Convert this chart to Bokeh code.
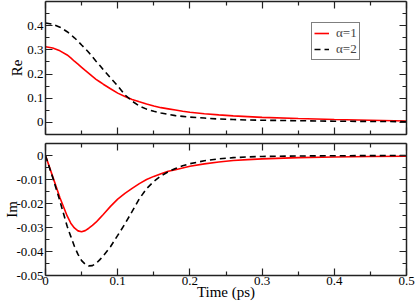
from bokeh.plotting import figure
from bokeh.models import FixedTicker, LinearAxis, CustomJSTickFormatter, Range1d, Legend, LegendItem
from bokeh.layouts import column
from bokeh.embed import file_html
from bokeh.resources import INLINE

# ---- data ----
t = [0.0, 0.01, 0.02, 0.03, 0.035, 0.04, 0.045, 0.05, 0.055, 0.06, 0.065, 0.07, 0.075, 0.08,
     0.09, 0.10, 0.11, 0.12, 0.13, 0.14, 0.15, 0.16, 0.17, 0.18, 0.19, 0.20, 0.22, 0.24,
     0.26, 0.28, 0.30, 0.35, 0.40, 0.45, 0.50]
re_a1 = [0.313, 0.308, 0.296, 0.279, 0.267, 0.253, 0.241, 0.228, 0.215, 0.203, 0.190, 0.178,
         0.168, 0.158, 0.139, 0.121, 0.107, 0.095, 0.085, 0.076, 0.068, 0.061, 0.056, 0.051,
         0.046, 0.042, 0.036, 0.031, 0.027, 0.024, 0.021, 0.016, 0.012, 0.009, 0.006]
re_a2 = [0.411, 0.406, 0.394, 0.375, 0.363, 0.350, 0.336, 0.320, 0.305, 0.289, 0.271, 0.253,
         0.236, 0.218, 0.184, 0.151, 0.114, 0.088, 0.068, 0.055, 0.046, 0.039, 0.033, 0.028,
         0.025, 0.022, 0.018, 0.014, 0.012, 0.010, 0.009, 0.007, 0.005, 0.004, 0.003]
im_a1 = [0.0, -0.0088, -0.0176, -0.0252, -0.0282, -0.0302, -0.0314, -0.0318, -0.0313, -0.0303,
         -0.0291, -0.0278, -0.0262, -0.0246, -0.0212, -0.0182, -0.0158, -0.0137, -0.0117,
         -0.0100, -0.0087, -0.0076, -0.0066, -0.0059, -0.0052, -0.0045, -0.0035, -0.0027,
         -0.0021, -0.0017, -0.0014, -0.0009, -0.0006, -0.0004, -0.0003]
im_a2 = [0.0, -0.0092, -0.0190, -0.0295, -0.0337, -0.0378, -0.0412, -0.0438, -0.0453, -0.0460,
         -0.0459, -0.0450, -0.0435, -0.0418, -0.0380, -0.0333, -0.0285, -0.0233, -0.0180,
         -0.0138, -0.0108, -0.0085, -0.0068, -0.0054, -0.0043, -0.0034, -0.0022, -0.0014,
         -0.0009, -0.0006, -0.0004, -0.0002, -0.0001, -0.00005, 0.0]

x_ticks = [0.0, 0.1, 0.2, 0.3, 0.4, 0.5]
x_minor = [0.05, 0.15, 0.25, 0.35, 0.45]
re_ticks = [0.0, 0.1, 0.2, 0.3, 0.4]
re_minor = [-0.05, 0.05, 0.15, 0.25, 0.35, 0.45]
im_ticks = [0.0, -0.01, -0.02, -0.03, -0.04, -0.05]
im_minor = [-0.005, -0.015, -0.025, -0.035, -0.045]
labels = ["\u03b1=1", "\u03b1=2"]

FONT = "'Liberation Serif'"


def fmt(digits):
    return CustomJSTickFormatter(code=f"return Math.abs(tick) < 1e-9 ? '0' : tick.toFixed({digits});")


def style_axis(ax, ticks, minor, digits=None):
    ax.ticker = FixedTicker(ticks=ticks, minor_ticks=minor)
    ax.major_tick_in = 7
    ax.major_tick_out = 0
    ax.minor_tick_in = 4
    ax.minor_tick_out = 0
    ax.axis_line_width = 1.5
    ax.axis_line_color = "#222222"
    ax.major_tick_line_color = "#222222"
    ax.minor_tick_line_color = "#222222"
    ax.major_tick_line_width = 1.2
    ax.minor_tick_line_width = 1.2
    if digits is None:
        ax.major_label_text_color = None
        ax.major_label_text_font_size = "1px"
        ax.major_label_standoff = 0
        ax.axis_label_standoff = 0
    else:
        ax.formatter = fmt(digits)
        ax.major_label_text_font = FONT
        ax.major_label_text_font_size = "13px"
        ax.major_label_text_color = "black"
        ax.major_label_standoff = 2
        ax.axis_label_standoff = -7
    ax.axis_label_text_font = FONT
    ax.axis_label_text_font_size = "15px"
    ax.axis_label_text_font_style = "normal"
    ax.axis_label_text_color = "black"


def make_fig(height, yr, mb_top, mb_bottom):
    p = figure(width=415, height=height, output_backend="svg", toolbar_location=None,
               x_range=Range1d(0, 0.5), y_range=Range1d(*yr),
               min_border_left=45, min_border_right=9,
               min_border_top=mb_top, min_border_bottom=mb_bottom)
    p.grid.visible = False
    p.outline_line_color = None
    p.background_fill_color = "white"
    p.border_fill_color = "white"
    return p


# ---- top panel (Re) ----
p1 = make_fig(138, (-0.05, 0.5), 1, 4)
r1 = p1.line(t, re_a1, line_color="#ff0000", line_width=1.6)
r2 = p1.line(t, re_a2, line_color="black", line_width=1.6, line_dash="6 4")
style_axis(p1.xaxis[0], x_ticks, x_minor)
style_axis(p1.yaxis[0], re_ticks, re_minor, 1)
p1.yaxis[0].axis_label = "Re"
p1.yaxis[0].axis_label_standoff = -1
ax_top = LinearAxis()
style_axis(ax_top, x_ticks, x_minor)
p1.add_layout(ax_top, "above")
ax_r1 = LinearAxis()
style_axis(ax_r1, re_ticks, re_minor)
p1.add_layout(ax_r1, "right")

legend = Legend(items=[LegendItem(label=labels[0], renderers=[r1]),
                       LegendItem(label=labels[1], renderers=[r2])],
                location=(266, 74))
legend.label_text_font = FONT
legend.label_text_font_size = "13px"
legend.label_text_line_height = 0.8
legend.label_height = 10
legend.glyph_height = 10
legend.glyph_width = 15
legend.label_standoff = 7
legend.spacing = -6
legend.padding = 2
legend.margin = 0
legend.border_line_color = "black"
legend.border_line_width = 1.5
legend.background_fill_alpha = 1
p1.add_layout(legend)

# ---- bottom panel (Im) ----
p2 = make_fig(168, (-0.05, 0.005), 5, 31)
p2.line(t, im_a1, line_color="#ff0000", line_width=1.6)
p2.line(t, im_a2, line_color="black", line_width=1.6, line_dash="6 4")
style_axis(p2.xaxis[0], x_ticks, x_minor, 1)
p2.xaxis[0].axis_label = "Time (ps)"
p2.xaxis[0].major_label_standoff = 1
p2.xaxis[0].axis_label_standoff = -4
style_axis(p2.yaxis[0], im_ticks, im_minor, 2)
p2.yaxis[0].axis_label = "Im"
ax_top2 = LinearAxis()
style_axis(ax_top2, x_ticks, x_minor)
p2.add_layout(ax_top2, "above")
ax_r2 = LinearAxis()
style_axis(ax_r2, im_ticks, im_minor)
p2.add_layout(ax_r2, "right")

layout = column(p1, p2, spacing=0,
                styles={"position": "absolute", "left": "0px", "top": "0px"})

open("out.html", "w").write(file_html(layout, INLINE))
